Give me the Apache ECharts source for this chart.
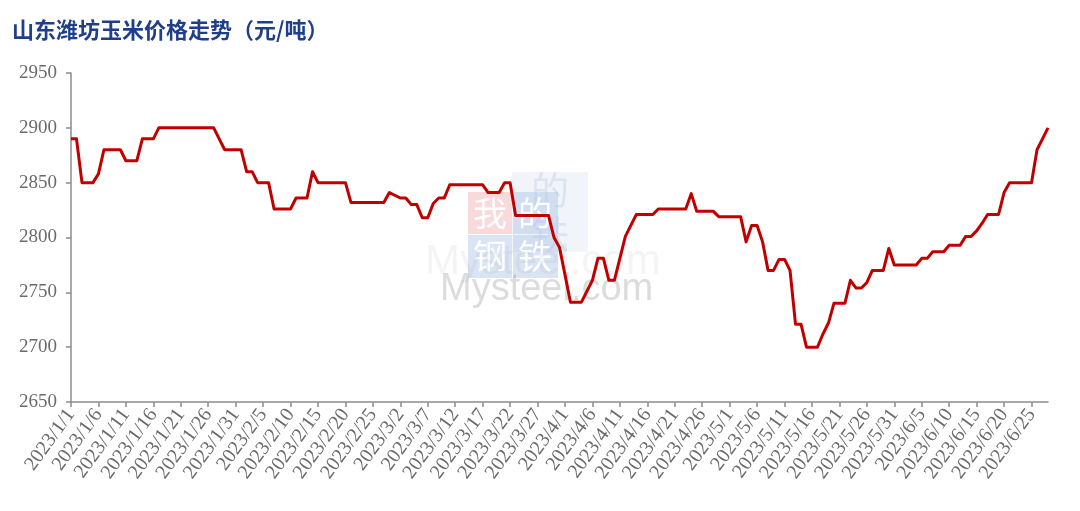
<!DOCTYPE html>
<html>
<head>
<meta charset="utf-8">
<script src="https://cdn.jsdelivr.net/npm/echarts@6/dist/echarts.min.js"></script>
<style>html,body{margin:0;padding:0;background:#fff}#c{width:1080px;height:511px}</style>
</head>
<body>
<div id="c"></div>
<script>
// Title
const titleText = '山东潍坊玉米价格走势（元/吨）';

// Date range of the category axis (daily)
const startDate = [2023, 1, 1];
const dayCount = 179; // 2023/1/1 .. 2023/6/28

// Y axis ticks
const yMin = 2650, yMax = 2950, yStep = 50;

// Vertices of the price line (date, value)
const pointDates = [
  '2023/1/1','2023/1/2','2023/1/3','2023/1/5','2023/1/6','2023/1/7','2023/1/10','2023/1/11','2023/1/13','2023/1/14',
  '2023/1/16','2023/1/17','2023/1/27','2023/1/28','2023/1/29','2023/2/1','2023/2/2','2023/2/3','2023/2/4','2023/2/6',
  '2023/2/7','2023/2/10','2023/2/11','2023/2/13','2023/2/14','2023/2/15','2023/2/20','2023/2/21','2023/2/27','2023/2/28',
  '2023/3/2','2023/3/3','2023/3/4','2023/3/5','2023/3/6','2023/3/7','2023/3/8','2023/3/9','2023/3/10','2023/3/11',
  '2023/3/17','2023/3/18','2023/3/20','2023/3/21','2023/3/22','2023/3/23','2023/3/29','2023/3/30','2023/3/31','2023/4/2',
  '2023/4/4','2023/4/6','2023/4/7','2023/4/8','2023/4/9','2023/4/10','2023/4/12','2023/4/13','2023/4/14','2023/4/17',
  '2023/4/18','2023/4/23','2023/4/24','2023/4/25','2023/4/28','2023/4/29','2023/5/3','2023/5/4','2023/5/5','2023/5/6',
  '2023/5/7','2023/5/8','2023/5/9','2023/5/10','2023/5/11','2023/5/12','2023/5/13','2023/5/14','2023/5/15','2023/5/17',
  '2023/5/18','2023/5/19','2023/5/20','2023/5/22','2023/5/23','2023/5/24','2023/5/25','2023/5/26','2023/5/27','2023/5/29',
  '2023/5/30','2023/5/31','2023/6/4','2023/6/5','2023/6/6','2023/6/7','2023/6/9','2023/6/10','2023/6/12','2023/6/13',
  '2023/6/14','2023/6/15','2023/6/16','2023/6/17','2023/6/19','2023/6/20','2023/6/21','2023/6/25','2023/6/26','2023/6/27',
  '2023/6/28'
];
const pointValues = [
  2890,2890,2850,2850,2858,2880,2880,2870,2870,2890,
  2890,2900,2900,2890,2880,2880,2860,2860,2850,2850,
  2826,2826,2836,2836,2860,2850,2850,2832,2832,2841,
  2836,2836,2830,2830,2818,2818,2831,2836,2836,2848,
  2848,2841,2841,2850,2850,2820,2820,2800,2791,2741,
  2741,2761,2781,2781,2761,2761,2801,2811,2821,2821,
  2826,2826,2840,2824,2824,2819,2819,2796,2811,2811,
  2796,2770,2770,2780,2780,2770,2721,2721,2700,2700,
  2712,2722,2740,2740,2761,2754,2754,2759,2770,2770,
  2790,2775,2775,2781,2781,2787,2787,2793,2793,2801,
  2801,2806,2813,2821,2821,2841,2850,2850,2880,2890,
  2900
];

// Build daily categories
const categories = [];
{
  const d0 = new Date(startDate[0], startDate[1] - 1, startDate[2]);
  for (let i = 0; i < dayCount; i++) {
    const d = new Date(d0.getFullYear(), d0.getMonth(), d0.getDate() + i);
    categories.push(d.getFullYear() + '/' + (d.getMonth() + 1) + '/' + d.getDate());
  }
}
const seriesData = pointDates.map((d, i) => [d, pointValues[i]]);

const axisColor = '#8c8c8c';
const labelColor = '#6b6b6b';
const labelFont = '"Liberation Serif", "Times New Roman", serif';

const chart = echarts.init(document.getElementById('c'), null, {renderer: 'canvas'});
chart.setOption({
  backgroundColor: '#ffffff',
  animation: false,
  grid: {left: 71, right: 32, top: 73, bottom: 109, containLabel: false},
  xAxis: {
    type: 'category',
    data: categories,
    boundaryGap: false,
    axisLine: {show: true, lineStyle: {color: axisColor, width: 1.5}},
    axisTick: {show: true, interval: 4, length: 5, lineStyle: {color: axisColor, width: 1.5}},
    axisLabel: {
      interval: 4, rotate: 54, margin: 9,
      color: labelColor, fontSize: 20, fontFamily: labelFont
    },
    splitLine: {show: false}
  },
  yAxis: {
    type: 'value',
    min: yMin, max: yMax, interval: yStep,
    axisLine: {show: true, lineStyle: {color: axisColor, width: 1.5}},
    axisTick: {show: true, length: 5, lineStyle: {color: axisColor, width: 1.5}},
    axisLabel: {color: labelColor, fontSize: 19, fontFamily: labelFont, margin: 14,
      formatter: v => String(v)},
    splitLine: {show: false}
  },
  graphic: [
    // watermark (decorative)
    {type: 'group', silent: true, z: 0, children: [
      {type: 'rect', shape: {x: 512, y: 172, width: 76, height: 80}, style: {fill: 'rgba(200,215,235,0.25)'}},
      {type: 'text', style: {x: 550, y: 212, text: '的\n铁', fill: 'rgba(160,180,210,0.25)', font: '38px "Noto Sans CJK SC"', align: 'center', verticalAlign: 'middle', lineHeight: 44}},
      {type: 'rect', shape: {x: 468, y: 192, width: 44, height: 42}, style: {fill: 'rgba(235,150,150,0.35)'}},
      {type: 'rect', shape: {x: 513, y: 192, width: 45, height: 42}, style: {fill: 'rgba(170,195,230,0.45)'}},
      {type: 'rect', shape: {x: 468, y: 235, width: 44, height: 43}, style: {fill: 'rgba(170,195,230,0.45)'}},
      {type: 'rect', shape: {x: 513, y: 235, width: 45, height: 43}, style: {fill: 'rgba(170,195,230,0.45)'}},
      {type: 'text', style: {x: 490, y: 213, text: '我', fill: 'rgba(255,255,255,0.95)', font: '34px "Noto Sans CJK SC"', align: 'center', verticalAlign: 'middle'}},
      {type: 'text', style: {x: 535, y: 213, text: '的', fill: 'rgba(255,255,255,0.95)', font: '34px "Noto Sans CJK SC"', align: 'center', verticalAlign: 'middle'}},
      {type: 'text', style: {x: 490, y: 256, text: '钢', fill: 'rgba(255,255,255,0.95)', font: '34px "Noto Sans CJK SC"', align: 'center', verticalAlign: 'middle'}},
      {type: 'text', style: {x: 535, y: 256, text: '铁', fill: 'rgba(255,255,255,0.95)', font: '34px "Noto Sans CJK SC"', align: 'center', verticalAlign: 'middle'}},
      {type: 'text', style: {x: 425, y: 262, text: 'Mysteel.com', fill: 'rgba(150,150,150,0.10)', font: '42px "Liberation Sans"', align: 'left', verticalAlign: 'middle'}},
      {type: 'text', style: {x: 440, y: 290, text: 'Mysteel.com', fill: 'rgba(130,130,130,0.28)', font: '38px "Liberation Sans Narrow", "Liberation Sans"', align: 'left', verticalAlign: 'middle'}}
    ]},
    {type: 'text', left: 12, top: 19, z: 10, style: {text: titleText, fill: '#1f3f8a', font: 'bold 22px "Noto Sans CJK SC"'}}
  ],
  series: [{
    type: 'line',
    data: seriesData,
    showSymbol: false,
    symbol: 'none',
    z: 5,
    lineStyle: {color: '#c00000', width: 3, join: 'round'},
    itemStyle: {color: '#c00000'}
  }]
});
</script>
</body>
</html>
